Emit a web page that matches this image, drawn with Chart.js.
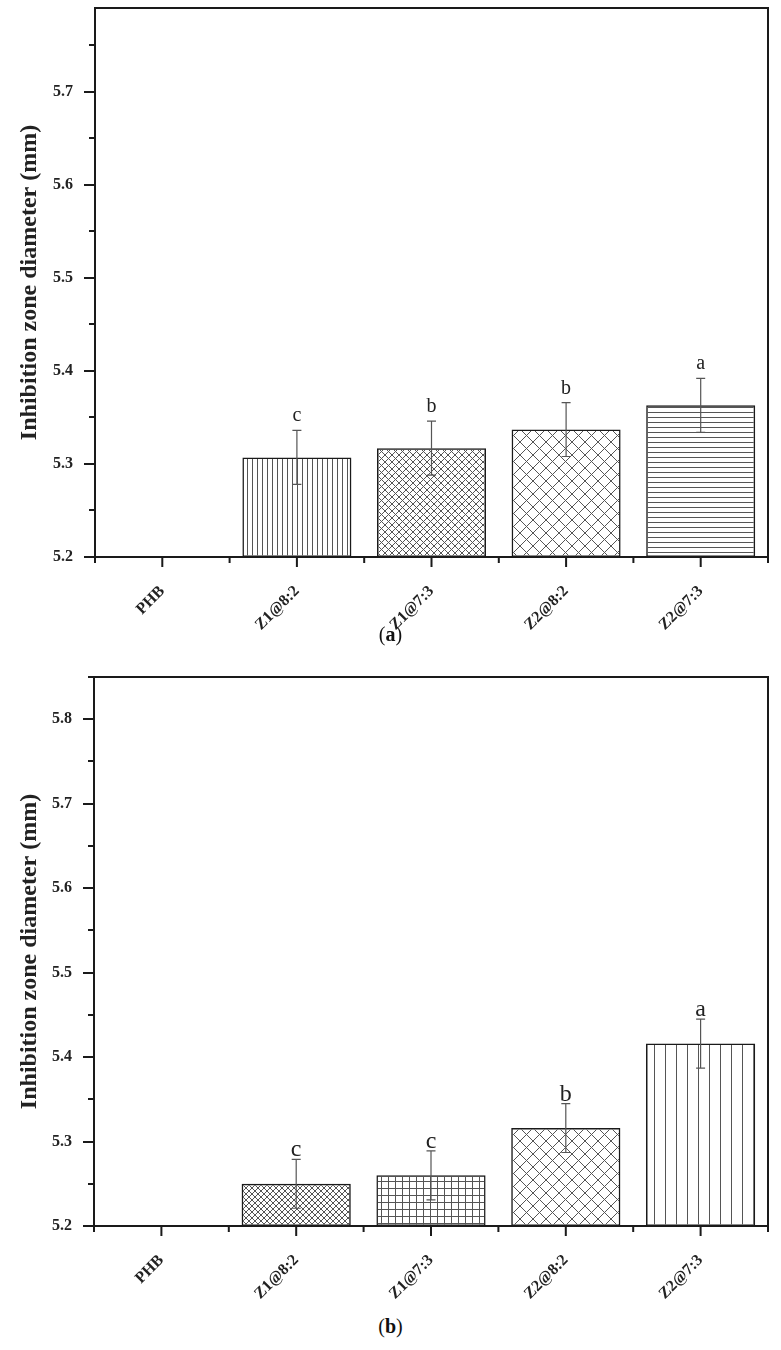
<!DOCTYPE html>
<html>
<head>
<meta charset="utf-8">
<script src="https://cdn.jsdelivr.net/npm/chart.js@4"></script>
<style>
  html, body { margin: 0; padding: 0; background: #fff; }
  body { width: 781px; height: 1350px; position: relative; overflow: hidden; font-family: "Liberation Serif", serif; }
  .panel { position: absolute; left: 0; width: 781px; }
  .cap { position: absolute; left: 0; width: 781px; text-align: center; font-size: 20px; line-height: 24px; color: #111; }
</style>
</head>
<body>
<div class="panel" style="top:0;height:645px"><canvas id="chartA"></canvas></div>
<div class="cap" style="top:622px">(<b>a</b>)</div>
<div class="panel" style="top:660px;height:650px"><canvas id="chartB"></canvas></div>
<div class="cap" style="top:1314px">(<b>b</b>)</div>
<script>
// data (mean inhibition zone diameter, mm)
const categories = ['PHB', 'Z1@8:2', 'Z1@7:3', 'Z2@8:2', 'Z2@7:3'];
const valuesA = [null, 5.307, 5.317, 5.337, 5.363];
const errorsA = [null, 0.029, 0.029, 0.029, 0.029];
const lettersA = ['', 'c', 'b', 'b', 'a'];
const valuesB = [null, 5.250, 5.260, 5.316, 5.416];
const errorsB = [null, 0.029, 0.029, 0.029, 0.029];
const lettersB = ['', 'c', 'c', 'b', 'a'];
const yMin = 5.2;
const yMaxA = 5.79;
const yMaxB = 5.85;
const yStep = 0.05;

const serif = '"Liberation Serif", "Times New Roman", serif';

// hatch fills like the original figure
function pattern(kind, size) {
    const c = document.createElement('canvas');
    c.width = size; c.height = size;
    const g = c.getContext('2d');
    g.strokeStyle = '#555';
    g.lineWidth = 1;
    g.beginPath();
    if (kind === 'v' || kind === 'grid') { g.moveTo(size / 2, 0); g.lineTo(size / 2, size); }
    if (kind === 'h' || kind === 'grid') { g.moveTo(0, size / 2); g.lineTo(size, size / 2); }
    if (kind === 'x') {
        g.moveTo(-1, -1); g.lineTo(size + 1, size + 1);
        g.moveTo(size + 1, -1); g.lineTo(-1, size + 1);
    }
    g.stroke();
    return g.createPattern(c, 'repeat');
}

const fillsA = ['#fff', pattern('v', 5), pattern('x', 7), pattern('x', 13), pattern('h', 5)];
const fillsB = ['#fff', pattern('x', 6), pattern('grid', 7), pattern('x', 13), pattern('v', 11)];

function makeChart(id, values, errors, letters, yMax, fills, lay) {
    const marks = {
        id: 'marks',
        afterDatasetsDraw(chart) {
            const ctx = chart.ctx, x = chart.scales.x, y = chart.scales.y;
            ctx.save();
            // error bars
            ctx.strokeStyle = '#555';
            ctx.lineWidth = 1.2;
            values.forEach((v, i) => {
                if (v == null) return;
                const cx = x.getPixelForValue(i);
                const t = y.getPixelForValue(v + errors[i]);
                const b = y.getPixelForValue(v - errors[i]);
                ctx.beginPath();
                ctx.moveTo(cx, t); ctx.lineTo(cx, b);
                ctx.moveTo(cx - 4.5, t); ctx.lineTo(cx + 4.5, t);
                ctx.moveTo(cx - 4.5, b); ctx.lineTo(cx + 4.5, b);
                ctx.stroke();
                // significance letter
                ctx.fillStyle = '#222';
                ctx.font = lay.letterFont;
                ctx.textAlign = 'center';
                ctx.textBaseline = 'alphabetic';
                ctx.fillText(letters[i], cx, t - lay.letterGap);
            });
            ctx.restore();
        },
        afterDraw(chart) {
            const ctx = chart.ctx, a = chart.chartArea, x = chart.scales.x, y = chart.scales.y;
            ctx.save();
            ctx.strokeStyle = '#1a1a1a';
            ctx.lineWidth = 2;
            ctx.strokeRect(a.left, a.top, a.right - a.left, a.bottom - a.top);
            ctx.beginPath();
            // y ticks: long on 0.1, short on 0.05
            y.ticks.forEach(t => {
                const major = Math.abs(t.value * 10 - Math.round(t.value * 10)) < 1e-6;
                const py = Math.round(y.getPixelForValue(t.value));
                ctx.moveTo(a.left - (major ? 11 : 6), py);
                ctx.lineTo(a.left, py);
            });
            // x ticks: long at categories, short at the boundaries
            const half = (x.getPixelForValue(1) - x.getPixelForValue(0)) / 2;
            categories.forEach((c, i) => {
                const px = x.getPixelForValue(i);
                ctx.moveTo(px, a.bottom); ctx.lineTo(px, a.bottom + 10);
                ctx.moveTo(px + half, a.bottom); ctx.lineTo(px + half, a.bottom + 6);
                if (i === 0) { ctx.moveTo(px - half, a.bottom); ctx.lineTo(px - half, a.bottom + 6); }
            });
            ctx.stroke();
            ctx.restore();
        }
    };

    return new Chart(document.getElementById(id), {
        type: 'bar',
        data: {
            labels: categories,
            datasets: [{
                data: values,
                base: yMin,
                backgroundColor: fills,
                borderColor: '#1a1a1a',
                borderWidth: 1.5,
                borderSkipped: false,
                categoryPercentage: 1,
                barPercentage: 0.81
            }]
        },
        options: {
            responsive: true,
            maintainAspectRatio: false,
            animation: false,
            layout: { padding: { top: lay.top, right: 13, left: 0, bottom: 0 } },
            plugins: { legend: { display: false }, tooltip: { enabled: false } },
            scales: {
                x: {
                    grid: { display: false, drawTicks: false },
                    border: { display: false },
                    ticks: {
                        autoSkip: false, minRotation: 45, maxRotation: 45,
                        padding: 25, color: '#222',
                        font: { family: serif, size: 16, weight: 'bold' }
                    },
                    afterFit: s => {
                        s.height = lay.xHeight;
                        s.paddingLeft = 0; s.paddingRight = 0;
                    }
                },
                y: {
                    min: yMin,
                    max: yMax,
                    grid: { display: false, drawTicks: false },
                    border: { display: false },
                    ticks: {
                        stepSize: yStep, includeBounds: false, padding: 22, color: '#222',
                        font: { family: serif, size: 16, weight: 'bold' },
                        callback: v => Math.abs(v * 10 - Math.round(v * 10)) < 1e-6 ? v.toFixed(1) : ''
                    },
                    title: {
                        display: true,
                        text: 'Inhibition zone diameter (mm)',
                        color: '#222',
                        font: { family: serif, size: 24, weight: 'bold' },
                        padding: { top: 15, bottom: 0 }
                    },
                    afterFit: s => {
                        s.width = lay.yWidth;
                        s.paddingTop = 0; s.paddingBottom = 0;
                    }
                }
            }
        },
        plugins: [marks]
    });
}

makeChart('chartA', valuesA, errorsA, lettersA, yMaxA, fillsA,
    { top: 8, xHeight: 88, yWidth: 95, letterFont: '20px ' + serif, letterGap: 9 });
makeChart('chartB', valuesB, errorsB, lettersB, yMaxB, fillsB,
    { top: 17, xHeight: 84, yWidth: 94, letterFont: '24px ' + serif, letterGap: 3 });
</script>
</body>
</html>
